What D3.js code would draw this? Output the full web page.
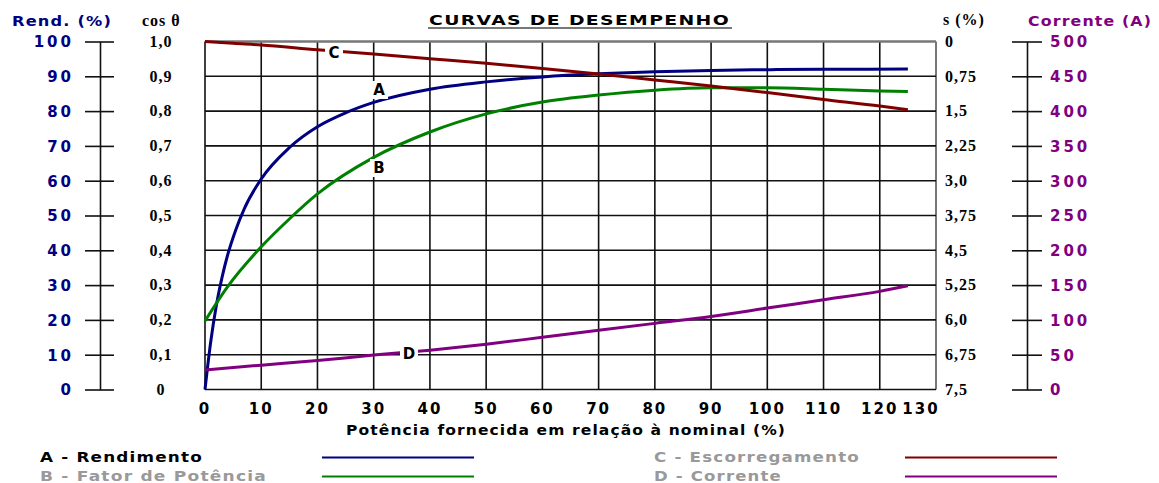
<!DOCTYPE html>
<html>
  <head>
    <script src="https://cdnjs.cloudflare.com/ajax/libs/d3/7.8.5/d3.min.js"></script>
    <style>
      body {
        margin: 0;
        overflow: hidden;
        background: #ffffff;
      }
      .sans {
        font-family: "DejaVu Sans", sans-serif;
        font-weight: bold;
        font-size: 14px;
        letter-spacing: 2.5px;
      }
      .serif {
        font-family: "Liberation Serif", serif;
        font-weight: bold;
        font-size: 16px;
        letter-spacing: 1px;
      }
    </style>
  </head>
  <body>
    <div id="canvas"></div>
    <script>
      // eixo x: potência fornecida (%)
      const xTickValues = [0, 10, 20, 30, 40, 50, 60, 70, 80, 90, 100, 110, 120, 130];

      // A - Rendimento (%)
      const rendX = [0, 1, 2, 3, 4, 5.5, 7, 10, 15, 20, 25, 30, 40, 50, 60, 70, 80, 90, 100, 110, 125];
      const rendY = [0, 13.5, 24, 32, 38.5, 46, 52, 60.5, 69.5, 75.5, 79.5, 82.5, 86.3, 88.4, 89.8, 90.7, 91.3, 91.7, 91.9, 92, 92.1];

      // B - Fator de potência (cos θ)
      const fpX = [0, 4, 10, 15, 20, 30, 40, 50, 60, 70, 80, 90, 100, 110, 120, 125];
      const fpY = [0.197, 0.295, 0.41, 0.49, 0.562, 0.667, 0.74, 0.792, 0.826, 0.846, 0.86, 0.867, 0.867, 0.863, 0.858, 0.856];

      // C - Escorregamento s (%)
      const escX = [0, 5, 10, 20, 30, 40, 50, 60, 70, 80, 90, 100, 110, 120, 125];
      const escY = [0, 0.04, 0.075, 0.18, 0.27, 0.37, 0.47, 0.58, 0.7, 0.83, 0.96, 1.1, 1.25, 1.39, 1.47];

      // D - Corrente (A)
      const corX = [0, 10, 20, 30, 40, 50, 60, 70, 80, 90, 100, 110, 120, 125];
      const corY = [28, 35, 41.5, 49.5, 56.5, 65, 75, 85, 95, 105, 117, 129, 141, 149];

      // rótulos dos eixos verticais
      const rendTicks = [0, 10, 20, 30, 40, 50, 60, 70, 80, 90, 100];
      const cosTicks = [0, 0.1, 0.2, 0.3, 0.4, 0.5, 0.6, 0.7, 0.8, 0.9, 1.0];
      const cosLabels = ["0", "0,1", "0,2", "0,3", "0,4", "0,5", "0,6", "0,7", "0,8", "0,9", "1,0"];
      const sTicks = [0, 0.75, 1.5, 2.25, 3.0, 3.75, 4.5, 5.25, 6.0, 6.75, 7.5];
      const sLabels = ["0", "0,75", "1,5", "2,25", "3,0", "3,75", "4,5", "5,25", "6,0", "6,75", "7,5"];
      const corTicks = [0, 50, 100, 150, 200, 250, 300, 350, 400, 450, 500];

      const width = 1159;
      const height = 483;

      const svg = d3
        .select("#canvas")
        .append("svg")
        .attr("width", width)
        .attr("height", height);

      // área do gráfico
      const pLeft = 205, pRight = 936, pTop = 41.5, pBottom = 389.5;

      const x = d3.scaleLinear().domain([0, 130]).range([pLeft, pRight]);
      const yRend = d3.scaleLinear().domain([0, 100]).range([pBottom, pTop]);
      const yCos = d3.scaleLinear().domain([0, 1]).range([pBottom, pTop]);
      const yS = d3.scaleLinear().domain([0, 7.5]).range([pTop, pBottom]);
      const yCor = d3.scaleLinear().domain([0, 500]).range([pBottom, pTop]);

      // grade
      const grid = svg.append("g");
      grid
        .selectAll("line.v")
        .data(xTickValues)
        .enter()
        .append("line")
        .attr("x1", (d) => x(d))
        .attr("x2", (d) => x(d))
        .attr("y1", pTop)
        .attr("y2", pBottom)
        .style("stroke", (d) => (d === 130 ? "#555" : "#111"))
        .style("stroke-width", 1.6);
      grid
        .selectAll("line.h")
        .data(rendTicks)
        .enter()
        .append("line")
        .attr("x1", pLeft)
        .attr("x2", pRight)
        .attr("y1", (d) => yRend(d))
        .attr("y2", (d) => yRend(d))
        .style("stroke", (d) => (d === 100 ? "#777" : "#111"))
        .style("stroke-width", (d) => (d === 100 ? 2.5 : 1.6));

      // eixo Rend. (%)
      const rendAxis = svg.append("g").attr("transform", "translate(100,0)");
      rendAxis.call(d3.axisLeft(yRend).tickValues(rendTicks).tickSizeInner(15).tickSizeOuter(0).tickPadding(14));
      rendAxis.append("g").call(d3.axisRight(yRend).tickValues(rendTicks).tickSize(14).tickFormat(""));
      rendAxis.selectAll("g g path").remove();
      rendAxis.selectAll("path").style("stroke", "#111").style("stroke-width", 1.6);
      rendAxis.selectAll("line").style("stroke", "#111").style("stroke-width", 1.6);
      rendAxis
        .selectAll("text")
        .attr("class", "sans")
        .style("fill", "#000080")
        .style("font-size", "15px")
        .style("letter-spacing", "3px")
        .attr("dx", "3px")
        .attr("dy", "0.36em");
      rendAxis.attr("font-family", null).attr("font-size", null);

      // eixo Corrente (A)
      const corAxis = svg.append("g").attr("transform", "translate(1027,0)");
      corAxis.call(d3.axisRight(yCor).tickValues(corTicks).tickSizeInner(15).tickSizeOuter(0).tickPadding(8));
      corAxis.append("g").call(d3.axisLeft(yCor).tickValues(corTicks).tickSize(15).tickFormat(""));
      corAxis.selectAll("g g path").remove();
      corAxis.selectAll("path").style("stroke", "#111").style("stroke-width", 1.6);
      corAxis.selectAll("line").style("stroke", "#111").style("stroke-width", 1.6);
      corAxis
        .selectAll("text")
        .attr("class", "sans")
        .style("fill", "#800080")
        .style("font-size", "15px")
        .style("letter-spacing", "3px")
        .attr("dy", "0.36em");
      corAxis.attr("font-family", null).attr("font-size", null);

      // rótulos cos θ
      svg
        .append("g")
        .selectAll("text")
        .data(cosTicks)
        .enter()
        .append("text")
        .attr("class", "serif")
        .attr("x", 161)
        .attr("y", (d) => yCos(d))
        .attr("dy", "0.33em")
        .attr("text-anchor", "middle")
        .text((d, i) => cosLabels[i]);

      // rótulos s (%)
      svg
        .append("g")
        .selectAll("text")
        .data(sTicks)
        .enter()
        .append("text")
        .attr("class", "serif")
        .attr("x", 945)
        .attr("y", (d) => yS(d))
        .attr("dy", "0.33em")
        .text((d, i) => sLabels[i]);

      // rótulos do eixo x
      svg
        .append("g")
        .selectAll("text")
        .data(xTickValues)
        .enter()
        .append("text")
        .attr("class", "sans")
        .attr("x", (d) => (d === 130 ? x(d) - 15 : x(d)))
        .attr("y", 414)
        .attr("text-anchor", "middle")
        .style("font-size", "15px")
        .style("letter-spacing", "2px")
        .text((d) => d);

      // títulos
      const stretch = (sel, w) =>
        sel.attr("textLength", w).attr("lengthAdjust", "spacingAndGlyphs").style("letter-spacing", "1px");
      svg.append("text").attr("class", "sans").attr("x", 12).attr("y", 26)
        .call(stretch, 100).style("fill", "#000080").text("Rend. (%)");
      svg.append("text").attr("class", "serif").attr("x", 142).attr("y", 26).text("cos θ");
      svg.append("text").attr("class", "serif").attr("x", 943).attr("y", 25).text("s (%)");
      svg.append("text").attr("class", "sans").attr("x", 1028).attr("y", 26)
        .call(stretch, 124).style("fill", "#800080").text("Corrente (A)");
      svg.append("text").attr("class", "sans").attr("x", 429).attr("y", 25)
        .call(stretch, 301).text("CURVAS DE DESEMPENHO");
      svg.append("line").attr("x1", 428).attr("x2", 732).attr("y1", 28).attr("y2", 28)
        .style("stroke", "#777").style("stroke-width", 2);
      svg.append("text").attr("class", "sans").attr("x", 346).attr("y", 435)
        .call(stretch, 440).text("Potência fornecida em relação à nominal (%)");

      // curvas
      const series = [
        { xs: rendX, ys: rendY, y: yRend, color: "#000080" },
        { xs: fpX, ys: fpY, y: yCos, color: "#008000" },
        { xs: escX, ys: escY, y: yS, color: "#800000" },
        { xs: corX, ys: corY, y: yCor, color: "#800080" },
      ];
      series.forEach((s) => {
        const line = d3
          .line()
          .x((d) => x(d[0]))
          .y((d) => s.y(d[1]))
          .curve(d3.curveMonotoneX);
        svg
          .append("path")
          .datum(s.xs.map((v, i) => [v, s.ys[i]]))
          .attr("d", line)
          .style("fill", "none")
          .style("stroke", s.color)
          .style("stroke-width", 3);
      });

      // letras nas curvas
      const marks = [
        { t: "C", cx: 334, cy: 53 },
        { t: "A", cx: 379, cy: 90 },
        { t: "B", cx: 379, cy: 168 },
        { t: "D", cx: 409, cy: 354 },
      ];
      const mg = svg.append("g").selectAll("g").data(marks).enter().append("g");
      mg.append("rect")
        .attr("x", (d) => d.cx - 9)
        .attr("y", (d) => d.cy - 9)
        .attr("width", 18)
        .attr("height", 18)
        .style("fill", "#fff");
      mg.append("text")
        .attr("class", "sans")
        .attr("x", (d) => d.cx)
        .attr("y", (d) => d.cy)
        .attr("dy", "0.36em")
        .attr("text-anchor", "middle")
        .style("font-size", "15px")
        .style("letter-spacing", "0px")
        .text((d) => d.t);

      // legenda
      const legend = [
        { t: "A - Rendimento", lx: 40, ly: 462, w: 163, c: "#000", color: "#000080", x1: 322 },
        { t: "B - Fator de Potência", lx: 40, ly: 481, w: 227, c: "#999", color: "#008000", x1: 322 },
        { t: "C - Escorregamento", lx: 654, ly: 462, w: 206, c: "#999", color: "#800000", x1: 905 },
        { t: "D - Corrente", lx: 654, ly: 481, w: 128, c: "#999", color: "#800080", x1: 905 },
      ];
      const lg = svg.append("g").selectAll("g").data(legend).enter().append("g");
      lg.append("text")
        .attr("class", "sans")
        .attr("x", (d) => d.lx)
        .attr("y", (d) => d.ly)
        .each(function (d) {
          d3.select(this).call(stretch, d.w);
        })
        .style("fill", (d) => d.c)
        .text((d) => d.t);
      lg.append("line")
        .attr("x1", (d) => d.x1)
        .attr("x2", (d) => d.x1 + 152)
        .attr("y1", (d) => d.ly - 4.5)
        .attr("y2", (d) => d.ly - 4.5)
        .style("stroke", (d) => d.color)
        .style("stroke-width", 2);
    </script>
  </body>
</html>
